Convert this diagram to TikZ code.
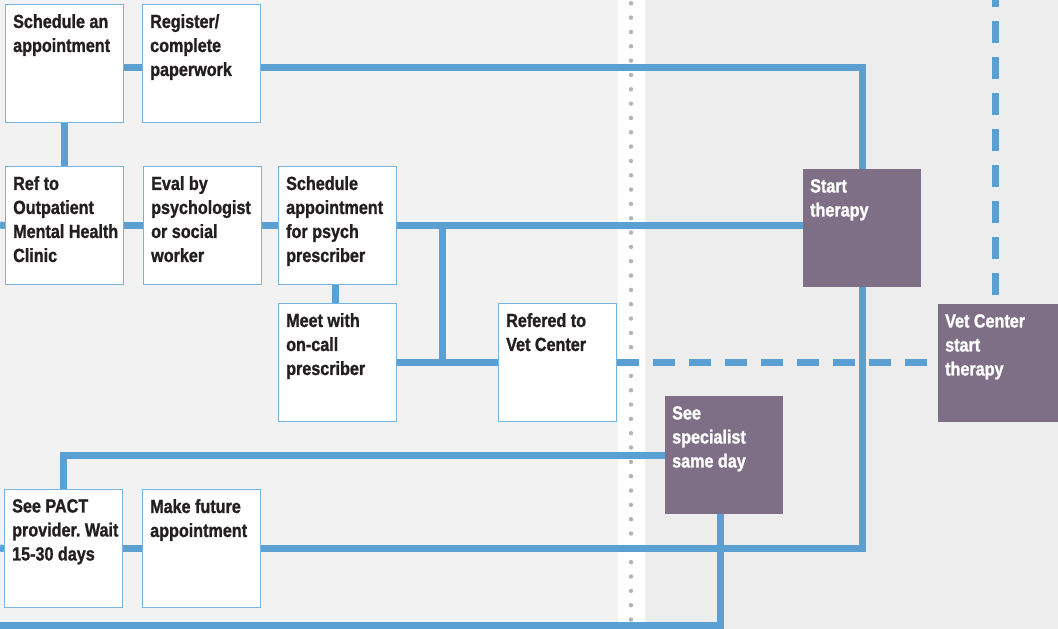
\documentclass[tikz,border=0pt]{standalone}
\usepackage{fontspec}
\newfontfamily\boxfont{Liberation Sans}[FakeStretch=0.85, BoldFeatures={FakeBold=1.2}]
\definecolor{bgl}{HTML}{F2F2F2}
\definecolor{bgr}{HTML}{EDEDED}
\definecolor{lblue}{HTML}{5AA0D3}
\definecolor{edgec}{HTML}{78B4E0}
\definecolor{purp}{HTML}{7F6F86}
\definecolor{ink}{HTML}{231F20}
\definecolor{dotc}{HTML}{B3B3BB}
\pgfdeclarelayer{bg}
\pgfdeclarelayer{lines}
\pgfsetlayers{bg,lines,main}
\begin{document}
\begin{tikzpicture}[x=1pt,y=-1pt,
  conn/.style={draw=lblue, line width=7pt, line join=miter},
  dconn/.style={conn, dash pattern=on 22pt off 14pt},
  wbox/.style={draw=edgec, line width=1.2pt, fill=white, anchor=north west, minimum width=118pt, minimum height=118pt, inner sep=0pt},
  pbox/.style={fill=purp, anchor=north west, minimum width=118pt, minimum height=118pt, inner sep=0pt},
  txtbase/.style={anchor=north west, inner sep=0pt, align=left, yshift=-10pt, font=\boxfont\bfseries\fontsize{19}{24}\selectfont\frenchspacing},
  wtxt/.style={txtbase, xshift=8pt, text=ink},
  ptxt/.style={txtbase, xshift=7pt, text=white}
]
\useasboundingbox (0,0) rectangle (1058,629);
\begin{pgfonlayer}{bg}
\fill[bgl] (0,0) rectangle (618,629);
\fill[white] (618,0) rectangle (645,629);
\fill[bgr] (645,0) rectangle (1058,629);
\foreach \i in {0,...,43} \fill[dotc] (631,{3.3+14.33*\i}) circle (2.2pt);
\end{pgfonlayer}

\node[wbox, label={[wtxt]north west:{Schedule an\\appointment}}] (sa) at (5,4) {};
\node[wbox, label={[wtxt]north west:{Register/\\complete\\paperwork}}] (reg) at (142,4) {};
\node[wbox, label={[wtxt]north west:{Ref to\\Outpatient\\Mental Health\\Clinic}}] (ref) at (5,166) {};
\node[wbox, label={[wtxt]north west:{Eval by\\psychologist\\or social\\worker}}] (eval) at (143,166) {};
\node[wbox, label={[wtxt]north west:{Schedule\\appointment\\for psych\\prescriber}}] (sap) at (278,166) {};
\node[wbox, label={[wtxt]north west:{Meet with\\on-call\\prescriber}}] (meet) at (278,303) {};
\node[wbox, label={[wtxt]north west:{Refered to\\Vet Center}}] (vetref) at (498,303) {};
\node[wbox, label={[wtxt]north west:{See PACT\\provider. Wait\\15-30 days}}] (pact) at (4,489) {};
\node[wbox, label={[wtxt]north west:{Make future\\appointment}}] (future) at (142,489) {};
\node[pbox, label={[ptxt]north west:{Start\\therapy}}] (start) at (803,169) {};
\node[pbox, label={[ptxt]north west:{See\\specialist\\same day}}] (spec) at (665,396) {};
\node[pbox, minimum width=122pt, label={[ptxt]north west:{Vet Center\\start\\therapy}}] (vct) at (938,304) {};

\begin{pgfonlayer}{lines}
\draw[conn] (sa.east |- 0,67) -- (reg.west |- 0,67);
\draw[conn] (reg.east |- 0,67) -- (start.north |- 0,67) -- (start.north);
\draw[conn] (start.south) -- (start.south |- 0,548) -- (future.east |- 0,548);
\draw[conn] (future.west) -- (pact.east);
\draw[conn] (pact.west) -- (0,548);
\draw[conn] (sa.south) -- (ref.north);
\draw[conn] (0,225) -- (ref.west);
\draw[conn] (ref.east) -- (eval.west);
\draw[conn] (eval.east) -- (sap.west);
\draw[conn] (sap.east) -- (start.west |- sap.east);
\draw[conn] (sap.east -| 442,0) -- (meet.east -| 442,0);
\draw[conn] (sap.south -| 335,0) -- (meet.north -| 335,0);
\draw[conn] (meet.east) -- (vetref.west);
\draw[dconn] (vetref.east) -- (vct.west |- vetref.east);
\draw[dconn, dash phase=15pt] (995,0) -- (995,0 |- vct.north);
\draw[conn] (spec.west) -- (pact.north |- spec.west) -- (pact.north);
\draw[conn] (spec.south -| 720,0) -- (720,625) -- (0,625);
\end{pgfonlayer}
\end{tikzpicture}
\end{document}
